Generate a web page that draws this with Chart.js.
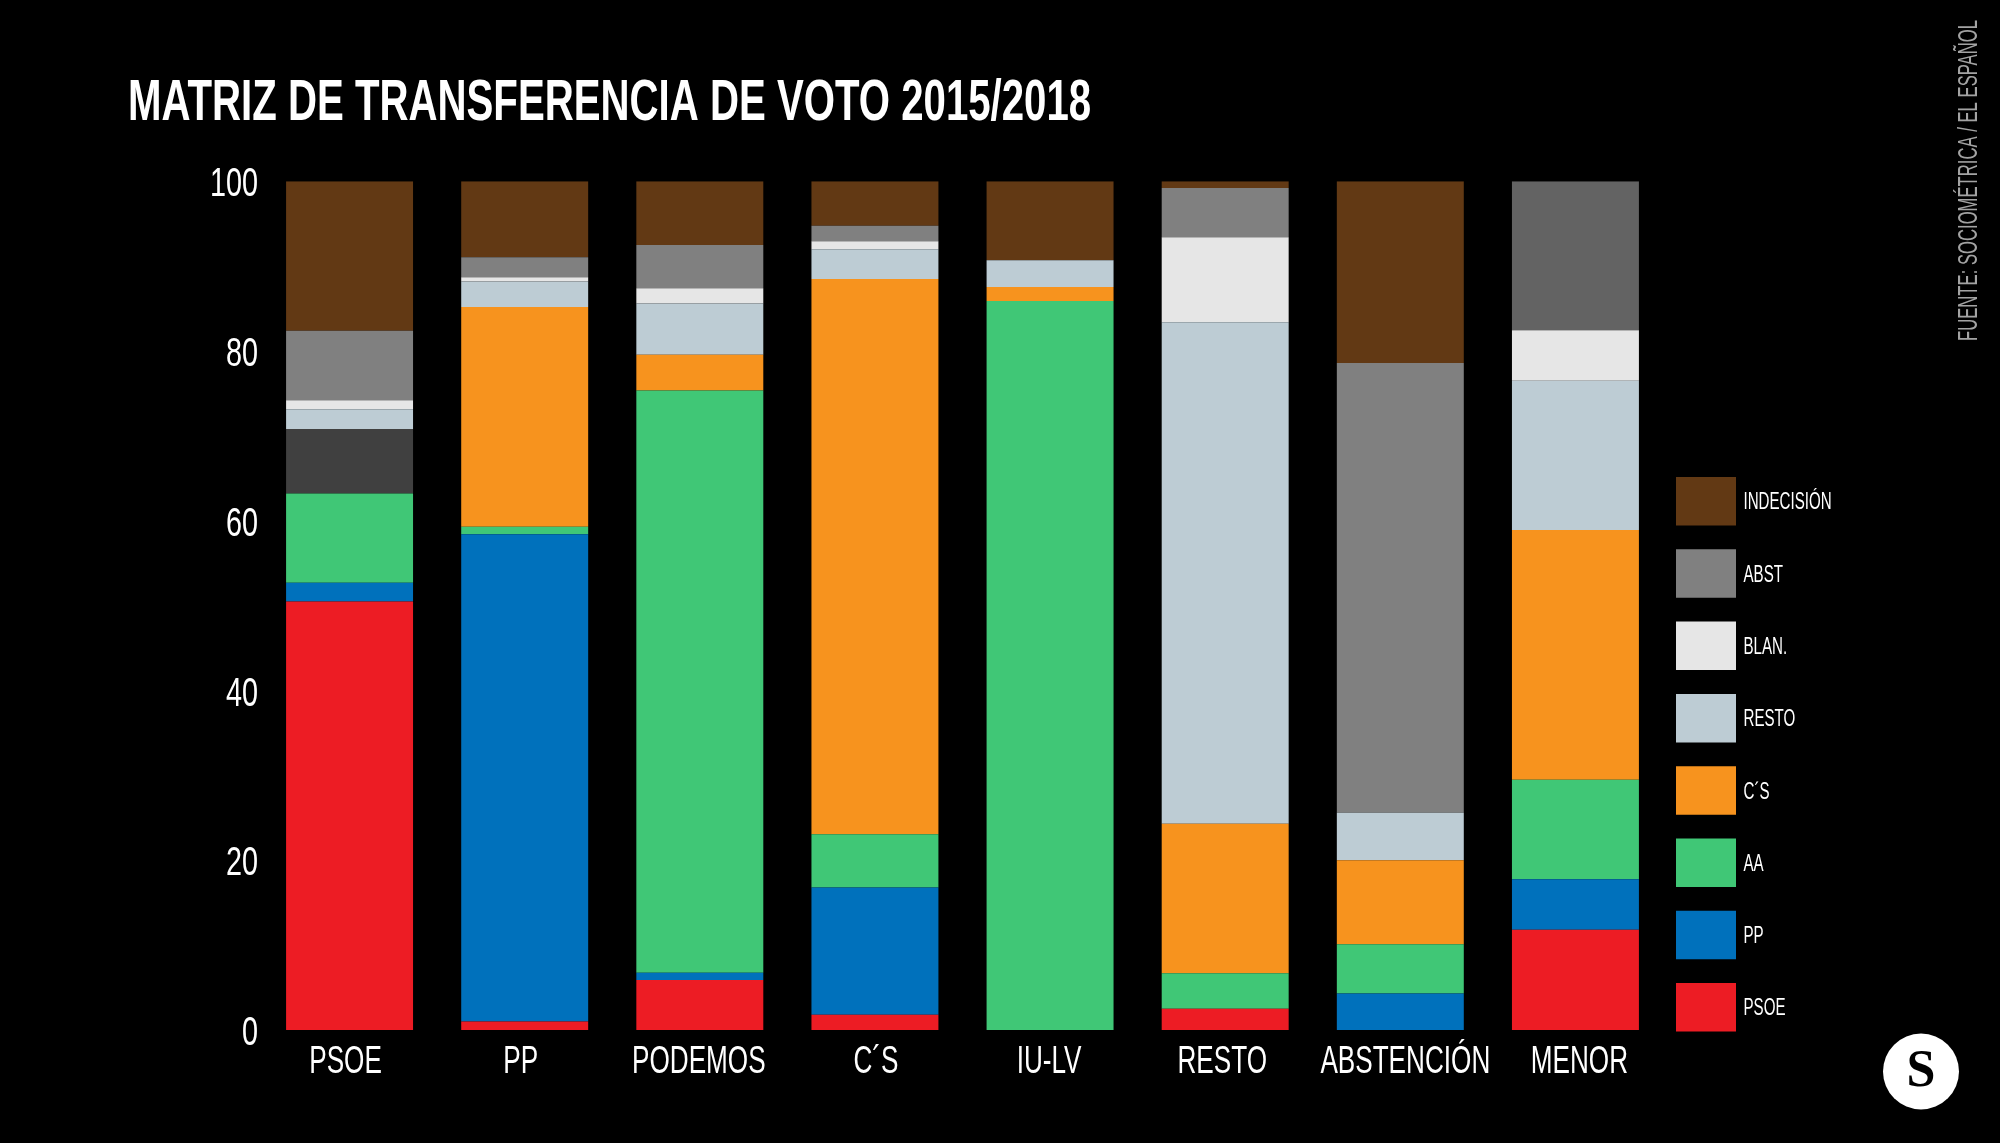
<!DOCTYPE html>
<html lang="es">
<head>
<meta charset="utf-8">
<style>html,body{margin:0;padding:0;background:#000}canvas{display:block}</style>
<script src="https://cdn.jsdelivr.net/npm/chart.js@4"></script>
</head>
<body>
<canvas id="c" width="2000" height="1143"></canvas>
<script>
const categories = ['PSOE','PP','PODEMOS','C´S','IU-LV','RESTO','ABSTENCIÓN','MENOR'];
const yTicks = [0,20,40,60,80,100];
const titleText = 'MATRIZ DE TRANSFERENCIA DE VOTO 2015/2018';
const sourceText = 'FUENTE: SOCIOMÉTRICA / EL ESPAÑOL';

const psoe   = [50.5, 1.0, 5.9, 1.8, 0, 2.5, 0, 11.8];
const pp     = [2.2, 57.4, 0.85, 15.0, 0, 0, 4.3, 5.95];
const aa     = [10.5, 0.9, 68.6, 6.25, 85.9, 4.2, 5.8, 11.75];
const otros  = [7.6, 0, 0, 0, 0, 0, 0, 0];
const cs     = [0, 25.9, 4.2, 65.45, 1.65, 17.6, 9.9, 29.4];
const resto  = [2.35, 3.0, 6.05, 3.5, 3.15, 59.1, 5.6, 17.6];
const blan   = [1.05, 0.5, 1.8, 0.95, 0, 10.0, 0, 5.95];
const abst   = [8.2, 2.35, 5.1, 1.8, 0, 5.8, 53.0, 0];
const indec  = [17.6, 8.95, 7.5, 5.25, 9.3, 0.8, 21.4, 0];
const nsnc   = [0, 0, 0, 0, 0, 0, 0, 17.55];

const SANS = '"Liberation Sans"';
const canvas = document.getElementById('c');
const ctx = canvas.getContext('2d');

// The reference type is far narrower than any installed face: squeeze text horizontally,
// and nudge the few labels the reference sets slightly off their nominal position.
const squeeze = {57: 0.705, 40: 0.72, 39: 0.67, 24: 0.63};
const shiftX = {24: -4.5};
const shiftY = {40: 4, 24: 1.5};
const tickShift = {'PSOE': -4, 'PP': -4, 'PODEMOS': -1, 'C´S': 1, 'IU-LV': -1, 'RESTO': -3, 'ABSTENCIÓN': 5, 'MENOR': 4};
const nativeFill = ctx.fillText.bind(ctx);
ctx.fillText = function (t, x, y) {
  const m = /([\d.]+)px/.exec(ctx.font);
  const size = m ? Math.round(+m[1]) : 0;
  const f = squeeze[size];
  if (f) {
    const dx = (shiftX[size] || 0) + (size === 39 ? tickShift[t] || 0 : 0);
    nativeFill(t, x + dx, y + (shiftY[size] || 0), ctx.measureText(t).width * f);
  } else if (arguments.length > 3) nativeFill(t, x, y, arguments[3]);
  else nativeFill(t, x, y);
};

const extras = {
  id: 'extras',
  beforeLayout(chart) {
    const lg = chart.legend;
    if (lg && !lg._fitWrapped) {
      const fit = lg.fit.bind(lg);
      lg.fit = function () { fit(); this.width = 337; };
      lg._fitWrapped = true;
    }
  },
  afterLayout(chart) {
    const lg = chart.legend, pad = lg.options.labels.padding;
    lg.left = 1676 - pad;
    lg.top = 477 - pad;
    lg.bottom = 1143;
  },
  afterDraw(chart) {
    const c = chart.ctx;
    c.save();
    c.translate(1970, 341);
    c.rotate(-Math.PI / 2);
    c.font = '400 27px "Liberation Sans"';
    c.fillStyle = '#a3a3a3';
    c.textAlign = 'left';
    c.textBaseline = 'middle';
    c.fillText(sourceText, 0, 0, 321);
    c.restore();
    c.save();
    c.beginPath();
    c.arc(1921, 1071.5, 38, 0, Math.PI * 2);
    c.fillStyle = '#fff';
    c.fill();
    c.fillStyle = '#000';
    c.font = '700 52px "Liberation Serif"';
    c.textAlign = 'center';
    c.textBaseline = 'middle';
    c.fillText('S', 1921, 1073);
    c.restore();
  }
};

const ds = (label, data, color) => ({label, data, backgroundColor: color, borderWidth: 0, stack: 's'});

new Chart(ctx, {
  type: 'bar',
  data: {
    labels: categories,
    datasets: [
      ds('PSOE', psoe, '#ED1C24'),
      ds('PP', pp, '#0071BC'),
      ds('AA', aa, '#40C776'),
      ds('OTROS', otros, '#404040'),
      ds('C´S', cs, '#F7931E'),
      ds('RESTO', resto, '#BDCCD4'),
      ds('BLAN.', blan, '#E6E6E6'),
      ds('ABST', abst, '#808080'),
      ds('INDECISIÓN', indec, '#623914'),
      ds('NS/NC', nsnc, '#636363')
    ]
  },
  plugins: [extras],
  options: {
    responsive: false,
    animation: false,
    devicePixelRatio: 1,
    layout: {padding: {left: 128, right: 0, top: 0, bottom: 0}},
    datasets: {bar: {barPercentage: 0.725, categoryPercentage: 1}},
    scales: {
      x: {
        stacked: true,
        grid: {display: false, drawTicks: false},
        border: {display: false},
        ticks: {color: '#fff', font: {family: SANS, size: 39}, padding: 9, maxRotation: 0, autoSkip: false},
        afterFit(s) { s.height = 113; }
      },
      y: {
        stacked: true, min: 0, max: 100,
        grid: {display: false, drawTicks: false},
        border: {display: false},
        afterBuildTicks(s) { s.ticks = yTicks.map(value => ({value})); },
        ticks: {color: '#fff', font: {family: SANS, size: 40}, padding: 4},
        afterFit(s) { s.width = 134; }
      }
    },
    plugins: {
      tooltip: {enabled: false},
      title: {
        display: true, text: titleText, align: 'start', color: '#fff',
        font: {family: SANS, size: 57, weight: '700', lineHeight: 1.2},
        padding: {top: 70.3, bottom: 42.6}
      },
      legend: {
        position: 'right', align: 'start', reverse: true,
        labels: {
          color: '#fff', boxWidth: 60, boxHeight: 48.5, padding: 23.8,
          font: {family: SANS, size: 24},
          filter: item => !['OTROS', 'NS/NC'].includes(item.text)
        }
      }
    }
  }
});
</script>
</body>
</html>
